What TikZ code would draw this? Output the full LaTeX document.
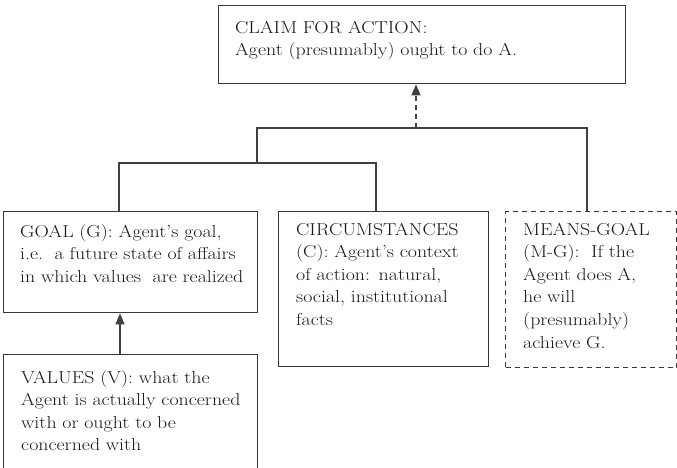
\documentclass[tikz,border=0pt]{standalone}
\usepackage{fontspec}
\setmainfont{Latin Modern Roman}[FakeStretch=1.15]
\usetikzlibrary{arrows.meta}
\begin{document}
\begin{tikzpicture}[x=1pt,y=-1pt,
  box/.style={draw=black!78, line width=1.4pt, inner sep=0pt, anchor=north west},
  dbox/.style={box, dash pattern=on 5pt off 4pt},
  txt/.style={anchor=base west, inner sep=0pt, align=left, text width=300pt,
    font=\fontsize{17.3}{22.6}\selectfont, text=black!90},
  conn/.style={draw=black!75, line width=1.3pt},
  tip/.style={-{Triangle[length=11pt,width=9pt]}}
]
\useasboundingbox (0,0) rectangle (677,467);
% boxes
\node[box, minimum width=407pt, minimum height=78pt] (top) at (218,5) {};
\node[box, minimum width=254pt, minimum height=101pt] (goal) at (3,211) {};
\node[box, minimum width=210pt, minimum height=155pt] (circ) at (278,211) {};
\node[dbox, minimum width=171pt, minimum height=156pt] (mg) at (505,211) {};
\node[box, minimum width=254pt, minimum height=130pt] (values) at (3,354) {};
% texts
\node[txt] (ttop) at (235,33) {CLAIM FOR ACTION:\\Agent (presumably) ought to do A.};
\node[txt] (tgoal) at (20,237) {GOAL (G): Agent's goal,\\i.e.\ \ a future state of affairs\\in which values\ \ are realized};
\node[txt] (tcirc) at (296,235) {CIRCUMSTANCES\\(C): Agent's context\\of action: natural,\\social, institutional\\facts};
\node[txt] (tmg) at (523,235) {MEANS-GOAL\\(M-G):\ \ If the\\Agent does A,\\he will\\(presumably)\\achieve G.};
\node[txt] (tvalues) at (21,383) {VALUES (V): what the\\Agent is actually concerned\\with or ought to be\\concerned with};
% junction coordinates
\coordinate (jl) at (119,163);
\coordinate (jm) at (257,163);
\coordinate (jr) at (376,163);
\coordinate (ul) at (257,128);
\coordinate (ua) at (416,128);
\coordinate (ur) at (587,128);
% connectors
\draw[conn] (goal.north -| jl) -- (jl) -- (jr) -- (circ.north -| jr);
\draw[conn] (jm) -- (ul) -- (ur) -- (mg.north -| ur);
\draw[conn, tip, dash pattern=on 5pt off 4pt] (ua) -- (top.south -| ua);
\draw[conn, tip] (values.north -| 120,0) -- (goal.south -| 120,0);
\end{tikzpicture}
\end{document}
